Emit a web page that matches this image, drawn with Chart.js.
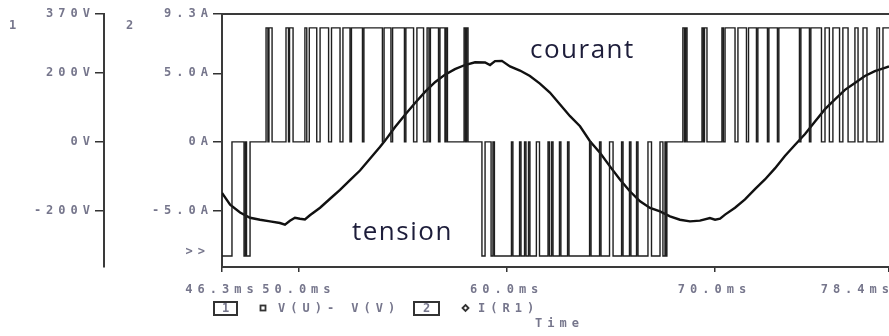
<!DOCTYPE html>
<html>
<head>
<meta charset="utf-8">
<script src="https://cdn.jsdelivr.net/npm/chart.js@4"></script>
<style>
  html, body { margin: 0; padding: 0; background: #fff; }
  canvas { display: block; }
</style>
</head>
<body>
<canvas id="plot" width="889" height="336"></canvas>
<script>
// time axis (ms)
const xTickVals = [46.3, 50, 60, 70, 78.4];
const xTickLabels = ["46.3ms", "50.0ms", "60.0ms", "70.0ms", "78.4ms"];

// axis 1 : V(U)- V(V)
const vTickVals = [-200, 0, 200, 370];
const vTickLabels = ["-200V", "0V", "200V", "370V"];

// axis 2 : I(R1)
const aTickVals = [-5, 0, 5, 9.3];
const aTickLabels = ["-5.0A", "0A", "5.0A", "9.3A"];

// PWM voltage, switching instants (ms) and the level reached at each one (V)
const vTime = [
  46.30, 46.78, 47.36, 47.43, 47.48, 47.65, 48.42, 48.51, 48.56, 48.71,
  49.38, 49.50, 49.55, 49.72, 50.29, 50.38, 50.50, 50.86, 51.02, 51.43,
  51.57, 51.98, 52.12, 52.46, 52.53, 53.06, 53.13, 54.02, 54.10, 54.43,
  54.51, 55.08, 55.15, 55.52, 55.68, 56.00, 56.17, 56.26, 56.33, 56.72,
  56.79, 57.03, 57.08, 57.15, 57.95, 58.02, 58.07, 58.14, 58.81, 58.96,
  59.25, 59.34, 59.41, 60.23, 60.30, 60.62, 60.69, 60.86, 60.93, 61.05,
  61.12, 61.43, 61.58, 61.99, 62.06, 62.16, 62.23, 62.54, 62.61, 62.93,
  63.00, 63.99, 64.06, 64.47, 64.54, 64.95, 65.12, 65.53, 65.60, 65.91,
  65.98, 66.25, 66.32, 66.80, 66.97, 67.38, 67.52, 67.62, 67.67, 67.71,
  68.48, 68.56, 68.61, 68.68, 69.40, 69.47, 69.52, 69.64, 70.36, 70.43,
  70.51, 70.99, 71.13, 71.54, 71.64, 72.02, 72.09, 72.55, 72.62, 73.03,
  73.10, 74.09, 74.16, 74.57, 74.64, 75.15, 75.32, 75.53, 75.70, 76.02,
  76.18, 76.43, 76.76, 76.91, 77.15, 77.34, 77.82, 77.94, 78.11, 78.40
];
const vLevel = [
  -330, 0, -330, 0, -330, 0, 330, 0, 330, 0,
  330, 0, 330, 0, 330, 0, 330, 0, 330, 0,
  330, 0, 330, 0, 330, 0, 330, 0, 330, 0,
  330, 0, 330, 0, 330, 0, 330, 0, 330, 0,
  330, 0, 330, 0, 330, 0, 330, 0, -330, 0,
  -330, 0, -330, 0, -330, 0, -330, 0, -330, 0,
  -330, 0, -330, 0, -330, 0, -330, 0, -330, 0,
  -330, 0, -330, 0, -330, 0, -330, 0, -330, 0,
  -330, 0, -330, 0, -330, 0, -330, 0, -330, 0,
  330, 0, 330, 0, 330, 0, 330, 0, 330, 0,
  330, 0, 330, 0, 330, 0, 330, 0, 330, 0,
  330, 0, 330, 0, 330, 0, 330, 0, 330, 0,
  330, 0, 330, 0, 330, 0, 330, 0, 330, 330
];

// load current (A)
const iTime = [
  46.30, 46.69, 47.17, 47.65, 48.13, 48.61, 49.09, 49.33, 49.57, 49.81,
  50.05, 50.29, 50.53, 51.02, 51.50, 51.98, 52.46, 52.94, 53.42, 53.90,
  54.14, 54.63, 55.11, 55.59, 56.07, 56.55, 57.03, 57.51, 57.99, 58.48,
  58.96, 59.20, 59.44, 59.77, 60.16, 60.64, 61.12, 61.60, 62.08, 62.57,
  63.05, 63.53, 64.01, 64.49, 64.97, 65.45, 65.93, 66.42, 66.90, 67.38,
  67.86, 68.34, 68.82, 69.30, 69.78, 70.03, 70.27, 70.51, 70.99, 71.47,
  71.95, 72.43, 72.91, 73.39, 73.87, 74.36, 74.84, 75.32, 75.80, 76.28,
  76.76, 77.24, 77.72, 78.20, 78.40
];
const iAmp = [
  -3.68, -4.53, -5.10, -5.48, -5.62, -5.74, -5.86, -5.98, -5.70, -5.48,
  -5.55, -5.60, -5.30, -4.75, -4.10, -3.45, -2.75, -2.05, -1.20, -0.35,
  0.10, 1.10, 2.00, 2.85, 3.65, 4.35, 4.90, 5.30, 5.60, 5.80,
  5.78, 5.60, 5.88, 5.90, 5.50, 5.20, 4.80, 4.25, 3.60, 2.74,
  1.89, 1.16, 0.07, -0.77, -1.75, -2.71, -3.56, -4.29, -4.77, -5.02,
  -5.38, -5.62, -5.74, -5.69, -5.50, -5.62, -5.55, -5.25, -4.75, -4.15,
  -3.40, -2.70, -1.90, -1.00, -0.20, 0.60, 1.50, 2.40, 3.10, 3.80,
  4.30, 4.80, 5.15, 5.40, 5.50
];

const MONO = '"DejaVu Sans Mono", "Liberation Mono", monospace';
const TXT = "#76768c";
const SPACING = "5px";

const lastX = xTickVals.length - 1;

function fixedTicks(vals) {
  return scale => { scale.ticks = vals.map(v => ({ value: v })); };
}

const decor = {
  id: "decor",
  beforeDraw(chart) {
    chart.ctx.letterSpacing = SPACING;
  },
  afterDraw(chart) {
    const ctx = chart.ctx;
    const a = chart.chartArea;
    const xs = chart.scales.x;
    ctx.save();

    // top edge of the plot frame
    ctx.strokeStyle = "#3a3a3a";
    ctx.lineWidth = 2;
    ctx.beginPath();
    ctx.moveTo(a.left, a.top);
    ctx.lineTo(a.right, a.top);
    ctx.stroke();

    ctx.letterSpacing = SPACING;
    ctx.font = "bold 12px " + MONO;
    ctx.fillStyle = TXT;
    ctx.textBaseline = "middle";
    ctx.textAlign = "left";
    ctx.fillText("1", 9, 26);
    ctx.fillText("2", 126, 26);
    ctx.textAlign = "right";
    ctx.fillText(">>", 210, 252);

    // last time label sits flush with the right edge
    ctx.fillText(xTickLabels[lastX], xs.getPixelForValue(xTickVals[lastX]) + 5, 290);

    // trace legend
    ctx.strokeStyle = "#333";
    ctx.lineWidth = 2;
    ctx.strokeRect(214, 302, 23, 13);
    ctx.strokeRect(414, 302, 25, 13);
    ctx.lineWidth = 1.8;
    ctx.strokeRect(260.5, 305.5, 5, 5);
    ctx.beginPath();
    ctx.moveTo(465.5, 305);
    ctx.lineTo(468.5, 308);
    ctx.lineTo(465.5, 311);
    ctx.lineTo(462.5, 308);
    ctx.closePath();
    ctx.stroke();

    ctx.textAlign = "left";
    ctx.fillText("1", 222, 309);
    ctx.fillText("V(U)- V(V)", 278, 309);
    ctx.fillText("2", 423, 309);
    ctx.fillText("I(R1)", 478, 309);
    ctx.fillText("Time", 535, 324);

    // trace annotations
    ctx.letterSpacing = "1.5px";
    ctx.font = '26px "Open Sans", "Noto Sans", sans-serif';
    ctx.fillStyle = "#1d1d3a";
    ctx.textBaseline = "alphabetic";
    ctx.fillText("courant", 530, 58);
    ctx.fillText("tension", 352, 240);

    ctx.restore();
  }
};

new Chart(document.getElementById("plot"), {
  type: "line",
  data: {
    datasets: [
      {
        label: "V(U)- V(V)",
        data: vTime.map((t, i) => ({ x: t, y: vLevel[i] })),
        yAxisID: "yV",
        stepped: true,
        borderColor: "#1e1e1e",
        borderWidth: 1.4,
        pointRadius: 0,
        fill: false
      },
      {
        label: "I(R1)",
        data: iTime.map((t, i) => ({ x: t, y: iAmp[i] })),
        yAxisID: "yA",
        borderColor: "#111",
        borderWidth: 2.4,
        pointRadius: 0,
        tension: 0,
        fill: false
      }
    ]
  },
  options: {
    responsive: false,
    animation: false,
    devicePixelRatio: 1,
    layout: { padding: { top: 14, left: 0, right: 0, bottom: 0 } },
    plugins: { legend: { display: false }, tooltip: { enabled: false } },
    scales: {
      x: {
        type: "linear",
        position: "bottom",
        min: 46.3,
        max: 78.4,
        afterBuildTicks: fixedTicks(xTickVals),
        afterFit: s => { s.height = 69; s.paddingLeft = 0; s.paddingRight = 0; },
        grid: { drawOnChartArea: false, tickLength: 5, color: "#333", lineWidth: 1.5 },
        border: { color: "#3a3a3a", width: 2 },
        ticks: {
          autoSkip: false,
          maxRotation: 0,
          minRotation: 0,
          padding: 11,
          color: TXT,
          font: { family: MONO, size: 12, weight: "bold" },
          callback: (v, i) => (i === lastX ? "" : xTickLabels[i])
        }
      },
      yA: {
        type: "linear",
        position: "left",
        weight: 0,
        min: -9.05,
        max: 9.3,
        afterBuildTicks: fixedTicks(aTickVals),
        afterFit: s => { s.width = 118; s.paddingTop = 0; s.paddingBottom = 0; },
        grid: { drawOnChartArea: false, tickLength: 9, color: "#333", lineWidth: 1.5 },
        border: { color: "#3a3a3a", width: 2 },
        ticks: {
          padding: 0,
          color: TXT,
          font: { family: MONO, size: 12, weight: "bold" },
          callback: (v, i) => aTickLabels[i]
        }
      },
      yV: {
        type: "linear",
        position: "left",
        weight: 1,
        min: -362,
        max: 370,
        afterBuildTicks: fixedTicks(vTickVals),
        afterFit: s => { s.width = 104; s.paddingTop = 0; s.paddingBottom = 0; },
        grid: { drawOnChartArea: false, tickLength: 9, color: "#333", lineWidth: 1.5 },
        border: { color: "#3a3a3a", width: 2 },
        ticks: {
          padding: 0,
          color: TXT,
          font: { family: MONO, size: 12, weight: "bold" },
          callback: (v, i) => vTickLabels[i]
        }
      }
    }
  },
  plugins: [decor]
});
</script>
</body>
</html>
